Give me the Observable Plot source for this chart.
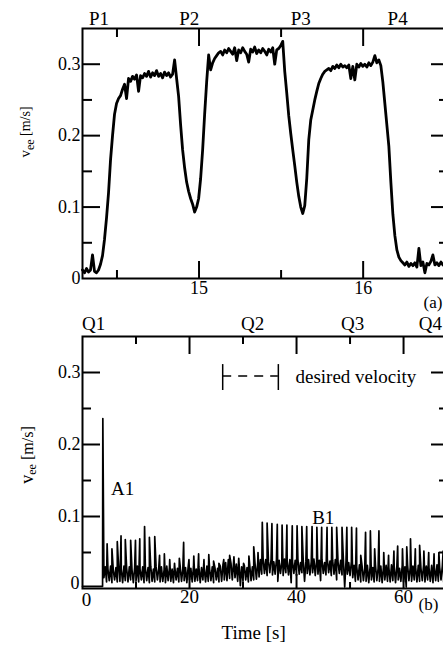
<!DOCTYPE html>
<html><head><meta charset="utf-8">
<script src="https://cdn.jsdelivr.net/npm/d3@7"></script>
<script src="https://cdn.jsdelivr.net/npm/@observablehq/plot@0.6"></script>
<style>
html,body{margin:0;padding:0;background:#fff;overflow:hidden;width:443px;height:648px;}
#wrap{position:relative;width:443px;height:648px;overflow:hidden;background:#fff;}
#top,#bot{position:absolute;left:0;width:460px;}
#top{top:0}
#bot{top:300px}
</style></head><body><div id="wrap"><div id="bot"></div><div id="top"></div></div>
<script>
// ---------- Panel (a) data ----------
const topStart = 14.29;          // s, first sample
const topStep = 0.0122;          // s, sampling interval
const topVel = [
0.012,0.008,0.014,0.009,0.012,0.033,0.010,0.008,0.012,0.020,
0.032,0.055,0.085,0.120,0.166,0.200,0.230,0.245,0.252,0.256,
0.265,0.272,0.252,0.280,0.276,0.283,0.279,0.285,0.262,0.284,
0.281,0.287,0.283,0.290,0.282,0.288,0.284,0.291,0.283,0.287,
0.281,0.289,0.284,0.288,0.282,0.286,0.306,0.280,0.255,0.215,
0.180,0.155,0.135,0.122,0.112,0.104,0.093,0.100,0.112,0.140,
0.180,0.230,0.275,0.313,0.292,0.302,0.308,0.312,0.316,0.318,
0.313,0.320,0.316,0.322,0.318,0.314,0.323,0.305,0.320,0.316,
0.323,0.318,0.314,0.303,0.321,0.317,0.324,0.315,0.320,0.316,
0.322,0.318,0.313,0.321,0.317,0.323,0.300,0.320,0.322,0.326,
0.332,0.290,0.260,0.228,0.203,0.180,0.158,0.135,0.115,0.100,
0.091,0.102,0.140,0.194,0.222,0.236,0.250,0.262,0.273,0.280,
0.286,0.290,0.292,0.294,0.291,0.297,0.294,0.299,0.295,0.300,
0.296,0.298,0.295,0.299,0.280,0.297,0.278,0.300,0.296,0.301,
0.297,0.300,0.296,0.302,0.298,0.303,0.312,0.302,0.306,0.298,
0.275,0.245,0.215,0.185,0.135,0.090,0.060,0.040,0.030,0.025,
0.022,0.019,0.023,0.017,0.021,0.018,0.022,0.016,0.042,0.018,
0.023,0.008,0.021,0.019,0.024,0.033,0.019,0.022,0.018,0.023,
0.019,0.021,0.020
];
const pLabels = ["P1", "P2", "P3", "P4"];
const pTimes = [14.39, 14.94, 15.62, 16.21];
const topXLabelTicks = [15, 16];
const topXMajor = [15, 16];
const topXMinor = [14.5, 15.5];

// ---------- Panel (b) data ----------
const botStep = 0.25; // s, baseline sampling interval, starting at 0 s
const botBase = [
0.003,0.003,0.003,0.003,0.003,0.003,0.003,0.003,
0.003,0.003,0.003,0.003,0.003,0.003,0.003,0.003,
0.015,0.030,0.009,0.027,0.011,0.031,0.008,0.026,
0.012,0.029,0.009,0.030,0.010,0.027,0.008,0.031,
0.011,0.028,0.009,0.030,0.012,0.026,0.008,0.029,
0.010,0.031,0.009,0.027,0.012,0.030,0.008,0.028,
0.011,0.029,0.008,0.031,0.010,0.027,0.009,0.030,
0.012,0.028,0.009,0.030,0.010,0.026,0.008,0.031,
0.011,0.029,0.010,0.027,0.008,0.030,0.012,0.028,
0.009,0.031,0.010,0.027,0.011,0.029,0.008,0.030,
0.012,0.028,0.009,0.031,0.010,0.027,0.011,0.030,
0.008,0.029,0.012,0.028,0.009,0.031,0.010,0.027,
0.011,0.030,0.008,0.029,0.012,0.028,0.009,0.031,
0.010,0.033,0.012,0.036,0.011,0.040,0.014,0.035,
0.012,0.038,0.015,0.034,0.010,0.036,0.004,0.030,
0.010,0.032,0.012,0.029,0.009,0.033,0.011,0.030,
0.012,0.034,0.013,0.036,0.016,0.040,0.020,0.042,
0.021,0.040,0.018,0.038,0.022,0.041,0.019,0.037,
0.020,0.040,0.010,0.039,0.021,0.036,0.018,0.041,
0.022,0.038,0.019,0.040,0.008,0.037,0.021,0.039,
0.018,0.041,0.020,0.036,0.022,0.039,0.010,0.038,
0.021,0.040,0.019,0.037,0.022,0.041,0.018,0.038,
0.020,0.039,0.011,0.040,0.021,0.036,0.019,0.041,
0.022,0.038,0.018,0.039,0.020,0.040,0.012,0.037,
0.021,0.039,0.019,0.041,0.002,0.038,0.020,0.036,
0.018,0.037,0.015,0.032,0.010,0.030,0.012,0.033,
0.009,0.031,0.011,0.028,0.010,0.032,0.008,0.030,
0.012,0.029,0.009,0.033,0.011,0.028,0.010,0.031,
0.008,0.030,0.012,0.032,0.010,0.029,0.009,0.033,
0.011,0.030,0.008,0.031,0.012,0.028,0.010,0.032,
0.009,0.030,0.002,0.033,0.011,0.029,0.010,0.031,
0.012,0.030,0.009,0.032,0.010,0.028,0.011,0.033,
0.009,0.031,0.012,0.029,0.010,0.032,0.008,0.030,
0.011,0.033,0.010,0.029,0.012,0.031,0.009,0.030,
0.011,0.030
];
const spikeT = [3.8,4.6,5.5,6.5,7.2,8.0,9.0,9.9,10.7,11.6,
12.5,13.5,14.4,15.3,16.3,17.2,18.1,18.9,19.9,20.8,
21.7,22.7,23.6,24.5,25.5,26.4,27.5,28.3,29.2,30.1,
31.1,32.0,32.8,
33.6,34.5,35.4,36.4,37.3,38.2,39.2,40.1,41.0,41.9,
42.9,43.8,44.7,45.7,46.6,47.5,48.5,49.4,50.3,51.2,
52.0,52.9,53.8,54.6,55.4,56.3,57.2,58.2,58.9,59.8,
60.6,61.3,62.2,63.0,63.8,64.7,65.7,66.6,67.4];
const spikeV = [0.236,0.062,0.055,0.065,0.073,0.068,0.067,0.067,0.069,0.086,
0.071,0.072,0.046,0.048,0.040,0.035,0.042,0.064,0.040,0.045,
0.048,0.040,0.047,0.038,0.035,0.040,0.046,0.044,0.042,0.035,
0.045,0.058,0.050,
0.092,0.091,0.090,0.089,0.088,0.088,0.087,0.087,0.086,0.086,
0.086,0.085,0.085,0.085,0.085,0.085,0.085,0.085,0.085,0.084,
0.046,0.078,0.080,0.055,0.080,0.050,0.046,0.052,0.059,0.055,
0.058,0.069,0.055,0.060,0.052,0.050,0.048,0.050,0.052];
const qLabels = ["Q1", "Q2", "Q3", "Q4"];
const qTimes = [2.06, 31.8, 50.5, 65.0];
const botXLabelTicks = [20, 40, 60];
const botXZero = [0];
const botXMajor = [20, 40, 60];
const botXMinor = [10, 30, 50];
const annotations = ["A1", "B1"];
const annotT = [7.5, 45.0];
const annotV = [0.138, 0.098];
const legendLabel = "desired velocity";

// ---------- shared ----------
const yLabelTicks = [0, 0.1, 0.2, 0.3];
const yLabelNonZero = [0.1, 0.2, 0.3];
const yZero = [0];
const yMajor = [0.1, 0.2, 0.3];
const yMinor = [0.05, 0.15, 0.25];
const serif = "'Liberation Serif', 'Times New Roman', serif";
const fmtY = d => d === 0 ? "0" : d3.format(".1f")(d);
const fmtX = d3.format("d");

const topData = topVel.map((v, i) => ({t: topStart + i * topStep, v}));
const botData = botBase.map((v, i) => ({t: i * botStep, v}))
  .concat(spikeT.map((t, i) => ({t, v: spikeV[i]})))
  .sort((a, b) => a.t - b.t);

function tk(anchor, values, size) {
  const o = {anchor, tickSize: -size, tickFormat: () => "", strokeWidth: 2, label: null};
  return (anchor === "left" || anchor === "right") ? Plot.axisY(values, o) : Plot.axisX(values, o);
}
const style = {fontFamily: serif, fontSize: "18px", color: "black", background: "transparent", maxWidth: "none", overflow: "visible"};

const topPlot = Plot.plot({
  width: 460, height: 320,
  marginLeft: 82, marginRight: 12, marginTop: 28, marginBottom: 42,
  x: {domain: [14.29, 16.52], label: null},
  y: {domain: [0, 0.35], label: null},
  style,
  marks: [
    Plot.line(topData, {x: "t", y: "v", stroke: "black", strokeWidth: 2.8}),
    Plot.frame({stroke: "black", strokeWidth: 2}),
    Plot.axisY(yLabelTicks, {anchor: "left", tickSize: 0, tickPadding: 2, tickFormat: fmtY, fontSize: 18, label: null}),
    tk("left", yMajor, 18), tk("left", yMinor, 10),
    tk("right", yMajor, 18), tk("right", yMinor, 10),
    tk("top", topXMajor, 17), tk("top", topXMinor, 8),
    tk("bottom", topXMajor, 17), tk("bottom", topXMinor, 8),
    Plot.axisX(topXLabelTicks, {anchor: "bottom", tickSize: 0, tickPadding: 3, tickFormat: fmtX, fontSize: 18, label: null}),
    Plot.text(pLabels, {x: (d, i) => pTimes[i], frameAnchor: "top", lineAnchor: "middle", dy: -10, fontSize: 19}),
    Plot.text(["(a)"], {frameAnchor: "bottom-right", lineAnchor: "middle", textAnchor: "start", dx: -25, dy: 24, fontSize: 17})
  ]
});

const botPlot = Plot.plot({
  width: 460, height: 348,
  marginLeft: 82, marginRight: 12, marginTop: 36, marginBottom: 60,
  x: {domain: [0, 68.4], label: null},
  y: {domain: [0, 0.35], label: null},
  style,
  marks: [
    Plot.line(botData, {x: "t", y: "v", stroke: "black", strokeWidth: 1.7}),
    Plot.frame({stroke: "black", strokeWidth: 2}),
    Plot.axisY(yLabelNonZero, {anchor: "left", tickSize: 0, tickPadding: 2, tickFormat: fmtY, fontSize: 18, label: null}),
    Plot.axisY(yZero, {anchor: "left", tickSize: 0, tickPadding: 3, dy: -5, tickFormat: fmtY, fontSize: 18, label: null}),
    tk("left", yMajor, 18), tk("left", yMinor, 9),
    tk("right", yMajor, 18), tk("right", yMinor, 10),
    tk("top", botXMajor, 17), tk("top", botXMinor, 7),
    tk("bottom", botXMajor, 14), tk("bottom", botXMinor, 6),
    Plot.axisX(botXLabelTicks, {anchor: "bottom", tickSize: 0, tickPadding: 1, tickFormat: fmtX, fontSize: 19, label: null}),
    Plot.axisX(botXZero, {anchor: "bottom", tickSize: 0, tickPadding: 4, dx: 4, tickFormat: fmtX, fontSize: 19, label: null}),
    Plot.text(qLabels, {x: (d, i) => qTimes[i], frameAnchor: "top", lineAnchor: "middle", dy: -13, fontSize: 19}),
    Plot.text(annotations, {x: (d, i) => annotT[i], y: (d, i) => annotV[i], fontSize: 19}),
    // legend sample for "desired velocity"
    Plot.ruleY([0.295], {x1: 26.2, x2: 36.6, stroke: "black", strokeWidth: 1.5, strokeDasharray: "9,7"}),
    Plot.ruleX([26.2, 36.6], {y1: 0.275, y2: 0.311, stroke: "black", strokeWidth: 1.5}),
    Plot.text([legendLabel], {x: 39.8, y: 0.294, textAnchor: "start", fontSize: 19}),
    Plot.text(["Time [s]"], {x: 32.0, frameAnchor: "bottom", lineAnchor: "middle", dy: 44, fontSize: 19}),
    Plot.text(["(b)"], {frameAnchor: "bottom-right", lineAnchor: "middle", textAnchor: "start", dx: -30, dy: 16, fontSize: 17})
  ]
});

function yTitle(svg, cx, cy, big, small, rest) {
  const t = d3.select(svg).append("text")
    .attr("transform", `translate(${cx},${cy}) rotate(-90)`)
    .attr("text-anchor", "middle")
    .attr("font-family", serif)
    .attr("fill", "black")
    .attr("dominant-baseline", "middle");
  t.append("tspan").attr("font-size", big).text("v");
  t.append("tspan").attr("font-size", small).attr("dy", 4).text("ee");
  t.append("tspan").attr("font-size", rest).attr("dy", -4).text(" [m/s]");
}
yTitle(topPlot, 27, 132, 15, 12, 14);
yTitle(botPlot, 29, 155, 18, 12, 16);

document.getElementById("top").appendChild(topPlot);
document.getElementById("bot").appendChild(botPlot);
</script></body></html>
